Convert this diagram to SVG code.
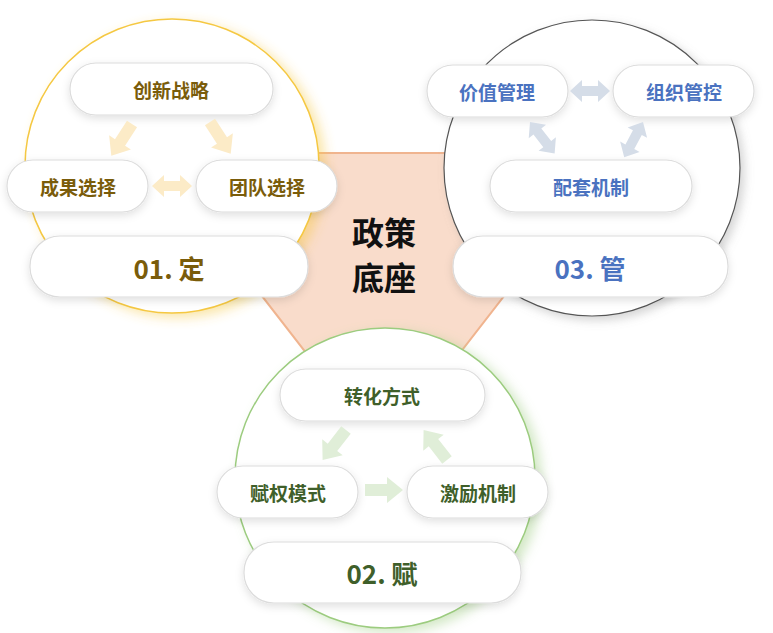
<svg xmlns="http://www.w3.org/2000/svg" width="773" height="633" viewBox="0 0 773 633">
<defs>
<filter id="sh" x="-20%" y="-30%" width="140%" height="170%"><feDropShadow dx="0" dy="3" stdDeviation="4" flood-color="#000" flood-opacity="0.12"/></filter>
<filter id="glowY" x="-20%" y="-20%" width="140%" height="140%"><feDropShadow dx="6" dy="4" stdDeviation="6" flood-color="#f5c842" flood-opacity="0.45"/></filter>
<filter id="glowG" x="-20%" y="-20%" width="140%" height="140%"><feDropShadow dx="6" dy="4" stdDeviation="6" flood-color="#9ccc7f" flood-opacity="0.45"/></filter>
<filter id="glowK" x="-20%" y="-20%" width="140%" height="140%"><feDropShadow dx="4" dy="4" stdDeviation="5" flood-color="#888" flood-opacity="0.35"/></filter>
<path id="one" d="M0,-6 L22,-6 L22,-13 L38,0 L22,13 L22,6 L0,6 Z"/>
<path id="two" d="M0,0 L12,-11 L12,-5 L28,-5 L28,-11 L40,0 L28,11 L28,5 L12,5 L12,11 Z"/>
</defs>
<style>
.pill{fill:#fff;stroke:#dcdcdc;stroke-width:1.2;filter:url(#sh)}
text{font-family:"Noto Sans CJK SC","Noto Sans",sans-serif;font-weight:bold;text-anchor:middle;dominant-baseline:central}
.s{font-size:19px}.b{font-size:26px;font-weight:600}
.y{fill:#7a5c0a}.g{fill:#3f5f2a}.k{fill:#4a72c0}
.ay{fill:#fcebc7}.ag{fill:#e0eed8}.ak{fill:#d5dde8}
</style>
<polygon points="151,153 615,153 383,452" fill="#f9dccb" stroke="#f0b48f" stroke-width="2"/>
<g id="c1">
<circle cx="172" cy="166" r="147" fill="#fff" stroke="#f5c842" stroke-width="1.5" filter="url(#glowY)"/>
<rect class="pill" x="70" y="63" width="203" height="52" rx="26"/><text class="s y" x="171" y="89">创新战略</text>
<rect class="pill" x="7" y="160" width="141" height="52" rx="26"/><text class="s y" x="78" y="186">成果选择</text>
<rect class="pill" x="196" y="160" width="141" height="52" rx="26"/><text class="s y" x="267" y="186">团队选择</text>
<rect class="pill" x="30" y="236" width="278" height="61" rx="30"/><text class="b y" x="169" y="267">01. 定</text>
</g>
<g id="c3">
<circle cx="592" cy="168" r="148" fill="#fff" stroke="#555" stroke-width="1.2" filter="url(#glowK)"/>
<rect class="pill" x="427" y="65" width="141" height="52" rx="26"/><text class="s k" x="497" y="91">价值管理</text>
<rect class="pill" x="613" y="65" width="141" height="52" rx="26"/><text class="s k" x="684" y="91">组织管控</text>
<rect class="pill" x="490" y="160" width="202" height="52" rx="26"/><text class="s k" x="591" y="186">配套机制</text>
<rect class="pill" x="453" y="236" width="275" height="61" rx="30"/><text class="b k" x="590" y="267">03. 管</text>
</g>
<g id="c2">
<circle cx="385" cy="478" r="150" fill="#fff" stroke="#9ccc7f" stroke-width="1.5" filter="url(#glowG)"/>
<rect class="pill" x="280" y="369" width="205" height="52" rx="26"/><text class="s g" x="382" y="395">转化方式</text>
<rect class="pill" x="217" y="466" width="141" height="52" rx="26"/><text class="s g" x="288" y="492">赋权模式</text>
<rect class="pill" x="407" y="466" width="141" height="52" rx="26"/><text class="s g" x="478" y="492">激励机制</text>
<rect class="pill" x="244" y="542" width="277" height="61" rx="30"/><text class="b g" x="382" y="572">02. 赋</text>
</g>
<g id="center">
<text x="384" y="231" font-size="32" fill="#111">政策</text>
<text x="384" y="276" font-size="32" fill="#111">底座</text>
</g>
<g id="connectors">
<use href="#one" class="ay" transform="translate(132,124) rotate(123)"/>
<use href="#one" class="ay" transform="translate(210,122) rotate(57)"/>
<use href="#two" class="ay" transform="translate(152,186)"/>
<use href="#two" class="ak" transform="translate(570,91)"/>
<use href="#two" class="ak" transform="translate(530,122) rotate(52)"/>
<use href="#two" class="ak" transform="translate(643,122) rotate(118)"/>
<use href="#one" class="ag" transform="translate(346,430) rotate(128)"/>
<use href="#one" class="ag" transform="translate(365,490)"/>
<use href="#one" class="ag" transform="translate(447,460) rotate(-128)"/>
</g>
</svg>
